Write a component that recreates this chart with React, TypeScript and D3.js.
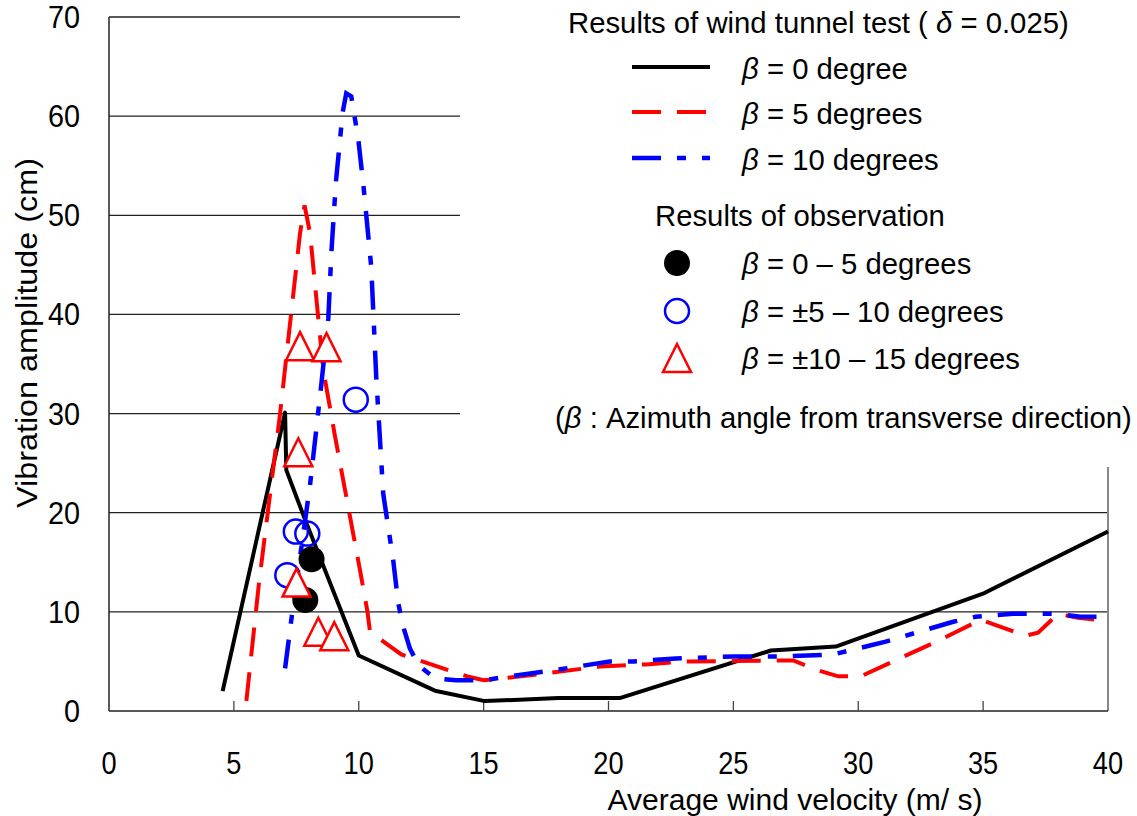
import React from "react";
import * as d3 from "d3";

// wind tunnel test curves: [wind velocity (m/s), amplitude (cm)]
const beta0: [number, number][] = [
  [4.55, 2.0], [7.05, 30.1], [7.1, 24.3], [7.85, 19.3], [10.0, 5.6], [13.05, 2.05],
  [15.05, 1.0], [18.0, 1.3], [20.45, 1.3], [26.5, 6.1], [29.1, 6.5], [35.05, 11.9], [40.0, 18.1],
];
const beta5: [number, number][] = [
  [5.5, 1.0], [6.0, 12.8], [6.85, 30.0], [7.65, 48.2], [7.83, 51.0], [8.05, 48.2], [8.58, 34.4],
  [9.05, 27.7], [10.05, 14.2], [10.35, 10.0], [10.45, 8.0], [11.7, 5.7], [14.4, 3.45], [15.0, 3.1],
  [16.85, 3.6], [19.7, 4.5], [21.5, 4.7], [23.0, 5.0], [27.4, 5.1], [28.4, 4.1], [29.2, 3.5],
  [30.1, 3.5], [33.3, 7.2], [34.9, 9.2], [36.7, 7.6], [37.2, 7.9], [38.0, 9.8], [38.8, 9.4], [39.9, 9.1],
];
const beta10: [number, number][] = [
  [7.05, 4.3], [7.3, 9.2], [8.05, 22.8], [8.5, 32.9], [8.78, 39.6], [8.91, 46.5], [9.09, 53.5],
  [9.25, 57.6], [9.35, 60.3], [9.5, 62.3], [9.7, 62.0], [9.98, 57.7], [10.18, 53.2], [10.5, 44.8],
  [10.7, 33.7], [10.98, 21.9], [11.38, 15.2], [11.58, 10.9], [11.78, 8.5], [12.05, 6.3], [12.4, 4.6],
  [13.05, 3.3], [13.9, 3.1], [15.0, 3.1], [16.05, 3.5], [17.8, 4.1], [20.05, 5.0], [21.0, 5.0],
  [22.7, 5.3], [25.0, 5.5], [26.9, 5.5], [29.0, 5.7], [31.1, 7.0], [33.8, 9.0], [34.7, 9.5],
  [36.2, 9.8], [37.9, 9.8], [38.9, 9.5], [39.9, 9.5],
];

// observations
const obs0to5: [number, number][] = [[8.11, 15.3], [7.86, 11.2]];
const obs5to10: [number, number][] = [[7.48, 18.1], [7.94, 17.9], [7.14, 13.7], [9.88, 31.4]];
const obs10to15: [number, number][] = [
  [7.65, 36.8], [8.71, 36.7], [7.58, 26.1], [7.51, 12.95], [8.38, 8.0], [9.02, 7.55],
];

const xTicks = [0, 5, 10, 15, 20, 25, 30, 35, 40];
const yTicks = [0, 10, 20, 30, 40, 50, 60, 70];

const FONT = "'Liberation Sans', Arial, sans-serif";
const RED_DASH = "29,16";
const BLUE_DASH = "29,16,9,16";
const LEG = 29.3;

function Txt({ x, y, size, anchor = "start", sx = 1, rotate = 0, children }: any) {
  return (
    <text
      transform={`translate(${x},${y}) rotate(${rotate}) scale(${sx},1)`}
      fontSize={size}
      textAnchor={anchor}
      fontFamily={FONT}
      fill="#000"
    >
      {children}
    </text>
  );
}

const Beta = () => <tspan fontStyle="italic">β</tspan>;

function Triangle({ cx, cy, s = 14 }: any) {
  return (
    <path
      d={`M${cx},${cy - s}L${cx + s},${cy + s}L${cx - s},${cy + s}Z`}
      fill="#fff"
      stroke="#ff0000"
      strokeWidth={2.5}
    />
  );
}

export default function App() {
  const width = 1137;
  const height = 816;
  const x = d3.scaleLinear().domain([0, 40]).range([109, 1108]);
  const y = d3.scaleLinear().domain([0, 70]).range([711, 17]);
  const line = d3
    .line<[number, number]>()
    .x((d) => x(d[0]))
    .y((d) => y(d[1]));

  const boxLeft = 460;
  const boxBottom = 467;

  return (
    <svg
      width={width}
      height={height}
      style={{ position: "absolute", left: 0, top: 0, background: "#fff" }}
    >
      <rect width={width} height={height} fill="#fff" />

      {/* grid */}
      {yTicks.filter((t) => t > 0).map((t) => (
        <line key={t} x1={x(0)} x2={x(40)} y1={y(t)} y2={y(t)} stroke="#222" strokeWidth={1.3} />
      ))}
      {/* right border */}
      <line x1={x(40)} x2={x(40)} y1={y(70)} y2={y(0)} stroke="#888" strokeWidth={2} />

      {/* legend box hides the upper right part */}
      <rect x={boxLeft} y={0} width={width - boxLeft} height={boxBottom} fill="#fff" />

      {/* axes */}
      <line x1={x(0)} x2={x(0)} y1={y(70)} y2={y(0)} stroke="#222" strokeWidth={1.5} />
      <line x1={x(0)} x2={x(40)} y1={y(0)} y2={y(0)} stroke="#222" strokeWidth={1.5} />
      {xTicks.slice(1, -1).map((t) => (
        <line key={t} x1={x(t)} x2={x(t)} y1={y(0)} y2={y(0) - 10} stroke="#444" strokeWidth={1.3} />
      ))}

      {xTicks.map((t) => (
        <Txt key={t} x={x(t)} y={774} size={32} sx={0.85} anchor="middle">{t}</Txt>
      ))}
      {yTicks.map((t) => (
        <Txt key={t} x={80} y={y(t) + 11} size={32} sx={0.9} anchor="end">{t}</Txt>
      ))}

      <text
        transform="translate(37,333) rotate(-90)"
        fontSize={29}
        fontFamily={FONT}
        textAnchor="middle"
        textLength={350}
        lengthAdjust="spacingAndGlyphs"
      >
        Vibration amplitude (cm)
      </text>
      <text
        x={795}
        y={810}
        fontSize={30}
        fontFamily={FONT}
        textAnchor="middle"
        textLength={375}
        lengthAdjust="spacingAndGlyphs"
      >
        Average wind velocity (m/ s)
      </text>

      {/* curves */}
      <path d={line(beta0) || ""} fill="none" stroke="#000" strokeWidth={4} strokeLinejoin="round" />
      <path d={line(beta5) || ""} fill="none" stroke="#ff0000" strokeWidth={4} strokeDasharray={RED_DASH} />
      <path d={line(beta10) || ""} fill="none" stroke="#0000ff" strokeWidth={4.5} strokeDasharray={BLUE_DASH} />

      {/* observations */}
      {obs5to10.map((d, i) => (
        <circle key={i} cx={x(d[0])} cy={y(d[1])} r={12} fill="none" stroke="#0000ff" strokeWidth={2.5} />
      ))}
      {obs0to5.map((d, i) => (
        <circle key={i} cx={x(d[0])} cy={y(d[1])} r={13} fill="#000" />
      ))}
      {obs10to15.map((d, i) => (
        <Triangle key={i} cx={x(d[0])} cy={y(d[1])} />
      ))}

      {/* legend */}
      <Txt x={568} y={33} size={LEG}>
        Results of wind tunnel test ( <tspan fontStyle="italic">δ</tspan> = 0.025)
      </Txt>
      <line x1={632} x2={710} y1={67} y2={67} stroke="#000" strokeWidth={4} />
      <line x1={632} x2={710} y1={112} y2={112} stroke="#ff0000" strokeWidth={4} strokeDasharray={RED_DASH} />
      <line x1={632} x2={710} y1={158} y2={158} stroke="#0000ff" strokeWidth={4.5} strokeDasharray={BLUE_DASH} />
      <Txt x={742} y={79} size={LEG}><Beta /> = 0 degree</Txt>
      <Txt x={742} y={124} size={LEG}><Beta /> = 5 degrees</Txt>
      <Txt x={742} y={170} size={LEG}><Beta /> = 10 degrees</Txt>

      <Txt x={655} y={226} size={LEG}>Results of observation</Txt>
      <circle cx={677} cy={263} r={13} fill="#000" />
      <circle cx={677} cy={311} r={12} fill="none" stroke="#0000ff" strokeWidth={2.5} />
      <Triangle cx={677} cy={358} />
      <Txt x={742} y={274} size={LEG}><Beta /> = 0 – 5 degrees</Txt>
      <Txt x={742} y={322} size={LEG}><Beta /> = ±5 – 10 degrees</Txt>
      <Txt x={742} y={369} size={LEG}><Beta /> = ±10 – 15 degrees</Txt>

      <Txt x={555} y={428} size={LEG}>
        (<Beta /> : Azimuth angle from transverse direction)
      </Txt>
    </svg>
  );
}
